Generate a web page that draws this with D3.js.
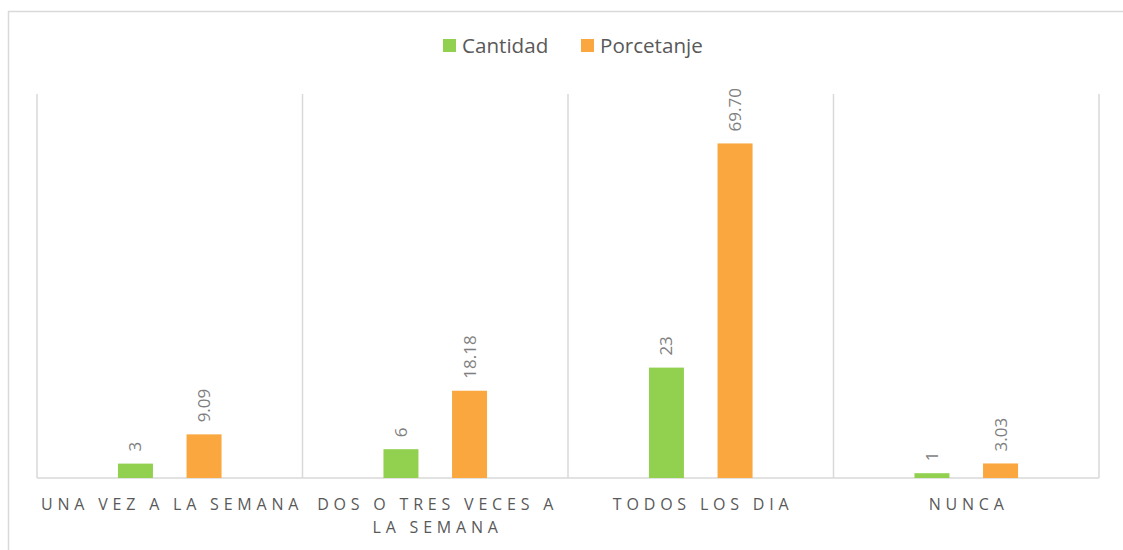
<!DOCTYPE html>
<meta charset="utf-8">
<style>
html,
body {
    margin: 0;
    padding: 0;
    overflow: hidden;
    background: #fff;
}

svg {
    display: block;
}

.legend text {
    font-family: "Open Sans", sans-serif;
    font-size: 20.6px;
    fill: #595959;
}

.cat-label {
    font-family: "Open Sans", sans-serif;
    font-size: 16px;
    letter-spacing: 4.8px;
    fill: #595959;
}

.value-label {
    font-family: "Open Sans", sans-serif;
    font-size: 17px;
    fill: #7f7f7f;
}
</style>
<svg width="1123" height="550"></svg>
<script src="https://d3js.org/d3.v7.min.js"></script>
<script>
// datos
var categories = ["UNA VEZ A LA SEMANA", "DOS O TRES VECES A LA SEMANA", "TODOS LOS DIA", "NUNCA"];
var catLines = [["UNA VEZ A LA SEMANA"], ["DOS O TRES VECES A", "LA SEMANA"], ["TODOS LOS DIA"], ["NUNCA"]];
var seriesNames = ["Cantidad", "Porcetanje"];
var cantidad = [3, 6, 23, 1];
var porcentaje = [9.09, 18.18, 69.70, 3.03];
var valueLabels = [["3", "6", "23", "1"], ["9.09", "18.18", "69.70", "3.03"]];
var colors = ["#92d050", "#f9a73e"];

var svg = d3.select("svg");

// marco
svg.append("rect")
    .attr("x", 8.5)
    .attr("y", 11.5)
    .attr("width", 1130)
    .attr("height", 560)
    .attr("fill", "none")
    .attr("stroke", "#d9d9d9")
    .attr("stroke-width", 1.5);

var plotLeft = 37, plotRight = 1099, plotTop = 94, plotBottom = 478;
var spacing = 4.8;

var x = d3.scaleBand()
    .domain(categories)
    .range([plotLeft, plotRight])
    .paddingInner(0)
    .paddingOuter(0);

var x1 = d3.scaleBand()
    .domain(seriesNames)
    .range([0, x.bandwidth()])
    .paddingInner(0.49)
    .paddingOuter(1.18);

var y = d3.scaleLinear()
    .domain([0, 80])
    .range([plotBottom, plotTop]);

// lineas verticales
var bounds = categories.map(function(c) { return x(c); }).concat([plotRight]);
svg.append("g")
    .selectAll("line")
    .data(bounds)
    .enter().append("line")
    .attr("x1", function(d) { return d; })
    .attr("x2", function(d) { return d; })
    .attr("y1", plotTop)
    .attr("y2", plotBottom)
    .attr("stroke", "#d9d9d9")
    .attr("stroke-width", 1.5);

// eje x
svg.append("line")
    .attr("x1", plotLeft)
    .attr("x2", plotRight)
    .attr("y1", plotBottom)
    .attr("y2", plotBottom)
    .attr("stroke", "#d9d9d9")
    .attr("stroke-width", 1.5);

var series = [cantidad, porcentaje];

var groups = svg.append("g")
    .selectAll("g")
    .data(series)
    .enter().append("g")
    .attr("fill", function(d, i) { return colors[i]; });

groups.each(function(vals, si) {
    var g = d3.select(this);
    g.selectAll("rect")
        .data(vals)
        .enter().append("rect")
        .attr("x", function(d, i) { return x(categories[i]) + x1(seriesNames[si]); })
        .attr("width", x1.bandwidth())
        .attr("y", function(d) { return y(d); })
        .attr("height", function(d) { return plotBottom - y(d); });

    g.selectAll("text")
        .data(vals)
        .enter().append("text")
        .attr("class", "value-label")
        .attr("transform", function(d, i) {
            var cx = x(categories[i]) + x1(seriesNames[si]) + x1.bandwidth() / 2;
            return "translate(" + cx + "," + (y(d) - 12) + ") rotate(-90)";
        })
        .attr("dy", "0.35em")
        .attr("text-anchor", "start")
        .text(function(d, i) { return valueLabels[si][i]; });
});

// etiquetas de categoria
var catG = svg.append("g")
    .selectAll("text")
    .data(categories)
    .enter().append("text")
    .attr("class", "cat-label")
    .attr("text-anchor", "middle")
    .attr("y", 510);

catG.each(function(d, i) {
    var t = d3.select(this);
    catLines[i].forEach(function(line, k) {
        t.append("tspan")
            .attr("x", x(d) + x.bandwidth() / 2 + spacing / 2)
            .attr("dy", k === 0 ? 0 : 23)
            .text(line);
    });
});

// leyenda
var legend = svg.append("g").attr("class", "legend");
var legendX = [443, 581];
seriesNames.forEach(function(name, i) {
    legend.append("rect")
        .attr("x", legendX[i])
        .attr("y", 39)
        .attr("width", 13)
        .attr("height", 13)
        .attr("fill", colors[i]);
    legend.append("text")
        .attr("x", legendX[i] + 19)
        .attr("y", 53)
        .text(name);
});
</script>
